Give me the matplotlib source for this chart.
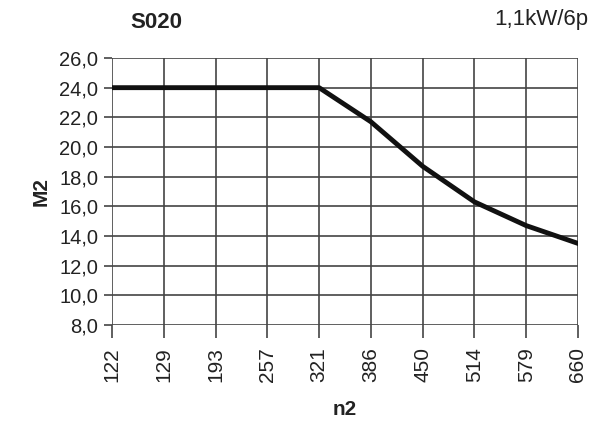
import matplotlib.pyplot as plt
from matplotlib.ticker import FuncFormatter

plt.rcParams['font.family'] = ['Liberation Sans', 'DejaVu Sans']

n2_labels = ['122', '129', '193', '257', '321', '386', '450', '514', '579', '660']
m2_values = [24.0, 24.0, 24.0, 24.0, 24.0, 21.7, 18.7, 16.3, 14.7, 13.5]

fig = plt.figure(figsize=(5.99, 4.28), dpi=100)
ax = fig.add_axes([112 / 599, 1 - 325 / 428, (578 - 112) / 599, (325 - 58) / 428])

x = list(range(len(n2_labels)))
ax.plot(x, m2_values, color='#111111', lw=3.5, solid_joinstyle='round', zorder=3)

ax.set_xlim(0, len(n2_labels) - 1)
ax.set_ylim(8, 26)
ax.set_xticks(x)
ax.set_xticklabels(n2_labels, rotation=90, fontsize=15, color='#222222')
ax.set_yticks([8 + 2 * i for i in range(10)])
ax.yaxis.set_major_formatter(FuncFormatter(lambda v, p: f'{v:.1f}'.replace('.', ',')))
ax.tick_params(axis='y', labelsize=14.5, labelcolor='#222222', length=6, color='#444444', width=1.2, pad=4)
ax.tick_params(axis='x', length=9, color='#444444', width=1.2, pad=7)
ax.grid(True, color='#444444', lw=1.2)
for s in ax.spines.values():
    s.set_visible(False)

ax.set_ylabel('M2', fontsize=15, fontweight='bold', color='#222222', labelpad=6)
ax.set_xlabel('n2', fontsize=15, fontweight='bold', color='#222222', labelpad=13)

fig.text(130 / 599, 1 - 22 / 428, 'S020', fontsize=16, fontweight='bold', color='#222222', va='center')
fig.text(588 / 599, 1 - 20 / 428, '1,1kW/6p', fontsize=16, color='#222222', va='center', ha='right')

fig.savefig('out.png', dpi=100)
